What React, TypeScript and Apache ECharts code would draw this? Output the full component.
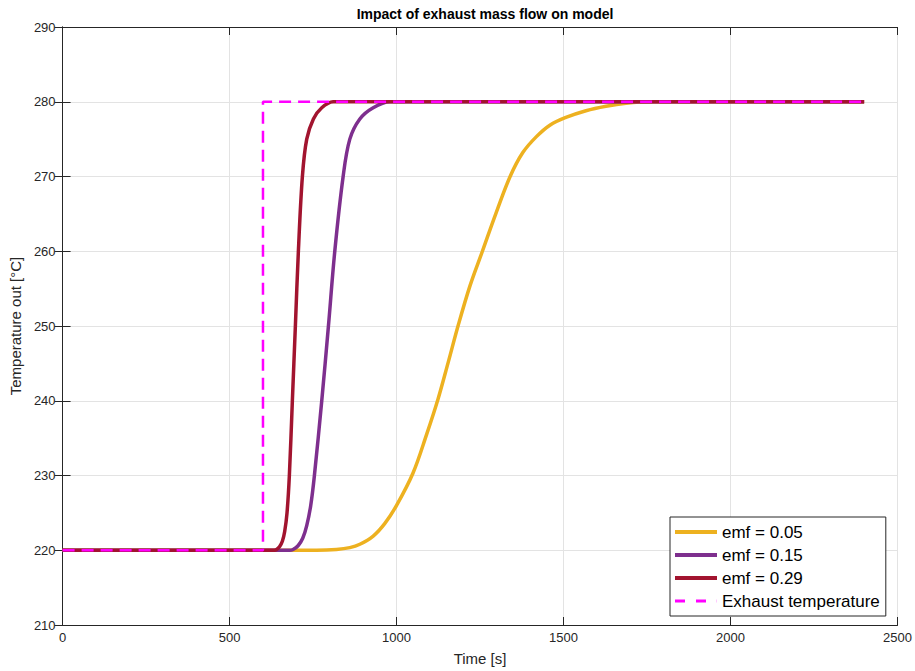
import React, { useEffect, useRef } from "react";
import * as echarts from "echarts";

const xTicks = [0, 500, 1000, 1500, 2000, 2500];
const yTicks = [210, 220, 230, 240, 250, 260, 270, 280, 290];

const seriesNames = ["emf = 0.05", "emf = 0.15", "emf = 0.29", "Exhaust temperature"];

// emf = 0.05 (time [s], temperature [°C])
const emf005: [number, number][] = [
  [0, 220], [760, 220], [820, 220.1], [860, 220.35], [890, 220.8], [930, 221.9],
  [965, 223.6], [1000, 226], [1049, 230.3], [1090, 235.5], [1124, 240.2],
  [1155, 245.2], [1184, 250], [1220, 255.4], [1257, 260], [1297, 265],
  [1340, 270], [1378, 273.2], [1418, 275.3], [1460, 276.9], [1507, 277.9],
  [1567, 278.8], [1627, 279.4], [1687, 279.8], [1760, 280], [2400, 280],
];

// emf = 0.15
const emf015: [number, number][] = [
  [0, 220], [680, 220], [690, 220.1], [705, 220.6], [719, 221.6], [731, 223.3],
  [743, 226], [754, 230], [776, 240], [796, 250], [815, 260], [840, 270],
  [860, 275], [890, 277.7], [930, 279.2], [980, 280], [2400, 280],
];

// emf = 0.29
const emf029: [number, number][] = [
  [0, 220], [634, 220], [641, 220.1], [650, 220.5], [658, 221.2], [665, 222.5],
  [672, 225], [679, 230], [688, 240], [697, 250], [706, 260], [718, 270],
  [731, 275], [751, 277.7], [776, 279.2], [810, 280], [2400, 280],
];

// Exhaust temperature step
const exhaust: [number, number][] = [
  [0, 220], [600, 220], [600, 280], [2400, 280],
];

const FONT = "'Liberation Sans', Arial, Helvetica, sans-serif";
const TXT = "#262626";

const colors = ["#EDB120", "#7E2F8E", "#A2142F", "#FF00FF"];

export default function App() {
  const ref = useRef<HTMLDivElement>(null);

  useEffect(() => {
    document.body.style.margin = "0";
    if (!ref.current) return;
    const chart = echarts.init(ref.current, undefined, { renderer: "svg" });
    const baseX = {
      type: "value" as const,
      min: xTicks[0],
      max: xTicks[xTicks.length - 1],
      interval: 500,
    };
    const baseY = {
      type: "value" as const,
      min: yTicks[0],
      max: yTicks[yTicks.length - 1],
      interval: 10,
    };
    const axisLine = { show: true, lineStyle: { color: TXT, width: 1 } };
    const axisTick = { show: true, inside: true, length: 8, lineStyle: { color: TXT, width: 1 } };
    const solidLine = (name: string, data: [number, number][], color: string) => ({
      name,
      type: "line",
      data,
      symbol: "none",
      smooth: 0.35,
      lineStyle: { color, width: 3.5 },
      itemStyle: { color },
    });
    chart.setOption({
      animation: false,
      backgroundColor: "#ffffff",
      textStyle: { fontFamily: FONT },
      title: {
        text: "Impact of exhaust mass flow on model",
        left: 480,
        top: 2,
        textAlign: "center",
        textStyle: { fontFamily: FONT, fontSize: 14, fontWeight: "bold", color: "#000" },
      },
      grid: { left: 62, right: 16, top: 27, bottom: 42 },
      legend: {
        orient: "vertical",
        left: 670,
        top: 517,
        data: [
          { name: seriesNames[0], icon: "rect" },
          { name: seriesNames[1], icon: "rect" },
          { name: seriesNames[2], icon: "rect" },
          {
            name: seriesNames[3],
            icon: "path://M0,0h10v3h-10z M21,0h10v3h-10z M41.8,0h0.2v3h-0.2z",
          },
        ],
        itemWidth: 42,
        itemHeight: 4,
        itemGap: 5,
        padding: [6, 6, 6, 5],
        backgroundColor: "#fff",
        borderColor: TXT,
        borderWidth: 1,
        borderRadius: 0,
        textStyle: { fontFamily: FONT, fontSize: 17, color: "#000", lineHeight: 18 },
      },
      xAxis: [
        {
          ...baseX,
          position: "bottom",
          name: "Time [s]",
          nameLocation: "middle",
          nameGap: 26,
          nameTextStyle: { fontFamily: FONT, fontSize: 15, color: TXT },
          axisLine,
          axisTick,
          axisLabel: {
            margin: 6,
            fontFamily: FONT,
            fontSize: 13,
            color: TXT,
            formatter: (v: number) => String(v),
          },
          splitLine: { show: true, lineStyle: { color: "#e3e3e3", width: 1 } },
        },
        {
          ...baseX,
          position: "top",
          axisLine,
          axisTick,
          axisLabel: { show: false },
          splitLine: { show: false },
        },
      ],
      yAxis: [
        {
          ...baseY,
          position: "left",
          name: "Temperature out [°C]",
          nameLocation: "middle",
          nameGap: 38,
          nameTextStyle: { fontFamily: FONT, fontSize: 15, color: TXT },
          axisLine,
          axisTick,
          axisLabel: {
            margin: 7,
            fontFamily: FONT,
            fontSize: 13,
            color: TXT,
            formatter: (v: number) => String(v),
          },
          splitLine: { show: true, lineStyle: { color: "#e3e3e3", width: 1 } },
        },
        {
          ...baseY,
          position: "right",
          axisLine,
          axisTick,
          axisLabel: { show: false },
          splitLine: { show: false },
        },
      ],
      series: [
        solidLine(seriesNames[0], emf005, colors[0]),
        solidLine(seriesNames[1], emf015, colors[1]),
        solidLine(seriesNames[2], emf029, colors[2]),
        {
          name: seriesNames[3],
          type: "line",
          data: exhaust,
          symbol: "none",
          lineStyle: { color: colors[3], width: 2.5, type: [12, 7] },
          itemStyle: { color: colors[3] },
        },
      ],
    });
    return () => chart.dispose();
  }, []);

  return <div ref={ref} style={{ width: 915, height: 671 }} />;
}
